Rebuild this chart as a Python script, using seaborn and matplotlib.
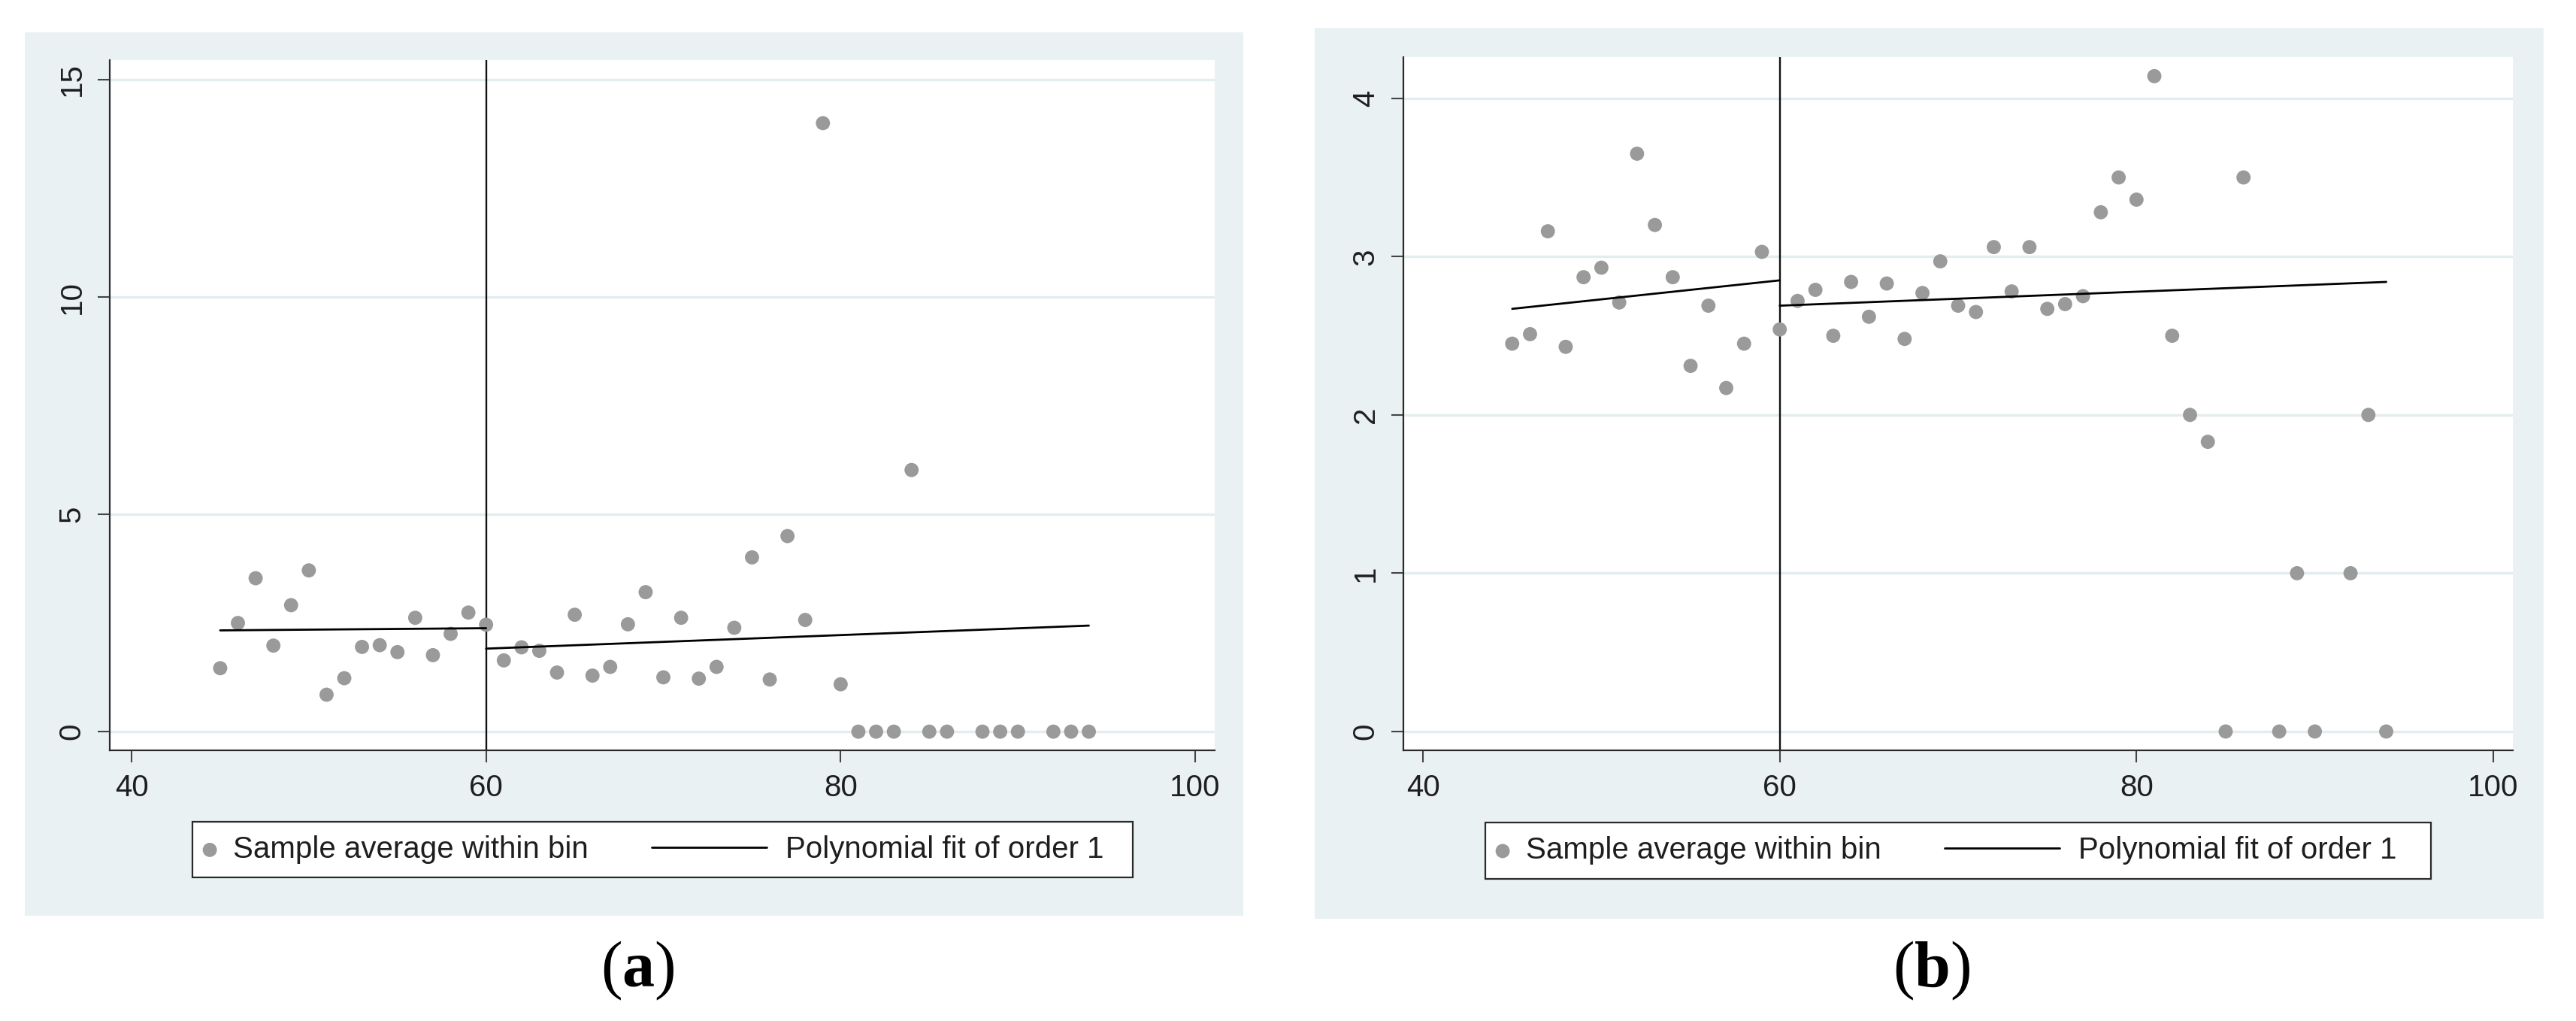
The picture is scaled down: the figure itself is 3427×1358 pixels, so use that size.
import numpy as np
import pandas as pd
import matplotlib
matplotlib.use("Agg")
import matplotlib.pyplot as plt
import seaborn as sns
from matplotlib.patches import Rectangle
from matplotlib.lines import Line2D
from matplotlib.collections import PathCollection
from matplotlib.legend_handler import HandlerLine2D, HandlerPathCollection

# ---------------- data ----------------
bins_a = [45, 46, 47, 48, 49, 50, 51, 52, 53, 54, 55, 56, 57, 58, 59, 60, 61, 62, 63, 64,
          65, 66, 67, 68, 69, 70, 71, 72, 73, 74, 75, 76, 77, 78, 79, 80, 81, 82, 83, 84,
          85, 86, 88, 89, 90, 92, 93, 94]
means_a = [1.46, 2.50, 3.53, 1.98, 2.91, 3.71, 0.85, 1.23, 1.95, 1.99, 1.83, 2.62, 1.76, 2.25,
           2.74, 2.46, 1.64, 1.94, 1.86, 1.36, 2.69, 1.29, 1.49, 2.47, 3.21, 1.25, 2.62, 1.22,
           1.49, 2.39, 4.01, 1.20, 4.50, 2.57, 14.0, 1.09, 0, 0, 0, 6.02, 0, 0, 0, 0, 0, 0, 0, 0]

bins_b = [45, 46, 47, 48, 49, 50, 51, 52, 53, 54, 55, 56, 57, 58, 59, 60, 61, 62, 63, 64,
          65, 66, 67, 68, 69, 70, 71, 72, 73, 74, 75, 76, 77, 78, 79, 80, 81, 82, 83, 84,
          85, 86, 88, 89, 90, 92, 93, 94]
means_b = [2.45, 2.51, 3.16, 2.43, 2.87, 2.93, 2.71, 3.65, 3.20, 2.87, 2.31, 2.69, 2.17, 2.45,
           3.03, 2.54, 2.72, 2.79, 2.50, 2.84, 2.62, 2.83, 2.48, 2.77, 2.97, 2.69, 2.65, 3.06,
           2.78, 3.06, 2.67, 2.70, 2.75, 3.28, 3.50, 3.36, 4.14, 2.50, 2.00, 1.83, 0, 3.50, 0,
           1.0, 0, 1.0, 2.0, 0]

# polynomial fit (order 1) endpoints, left and right of cutoff
cutoff = 60
fit_a_left_x, fit_a_left_y = [45, 60], [2.33, 2.38]
fit_a_right_x, fit_a_right_y = [60, 94], [1.91, 2.44]
fit_b_left_x, fit_b_left_y = [45, 60], [2.67, 2.85]
fit_b_right_x, fit_b_right_y = [60, 94], [2.69, 2.84]

xticks = [40, 60, 80, 100]
yticks_a = [0, 5, 10, 15]
yticks_b = [0, 1, 2, 3, 4]
legend_labels = ["Sample average within bin", "Polynomial fit of order 1"]
panel_labels = ["a", "b"]

# ---------------- style ----------------
sns.set_style("white")
plt.rcParams["font.family"] = ["Liberation Sans", "DejaVu Sans"]
plt.rcParams["mathtext.fontset"] = "custom"
plt.rcParams["mathtext.rm"] = "Liberation Serif"
plt.rcParams["mathtext.bf"] = "Liberation Serif:bold"

W, H = 3427, 1358
fig = plt.figure(figsize=(W / 100, H / 100), dpi=100)
fig.patch.set_facecolor("white")

BG = "#EAF1F3"
GRID = "#E3ECEF"
DOT = "#9A9A9A"
TXT = "#1E1E1E"


def fx(px):
    return px / W


def fy(py):
    return 1 - py / H


# panel backgrounds (Stata graph region)
for (x0, y0, x1, y1) in [(33, 43, 1654, 1218), (1749, 37, 3384, 1222)]:
    fig.add_artist(Rectangle((fx(x0), fy(y1)), fx(x1 - x0), (y1 - y0) / H,
                             transform=fig.transFigure, facecolor=BG, edgecolor="none", zorder=0))


class DotHandler(HandlerPathCollection):
    def get_xdata(self, legend, xdescent, ydescent, width, height, fontsize):
        x = [-xdescent - 0.42 * fontsize]
        return x, x


class LineHandler(HandlerLine2D):
    def get_xdata(self, legend, xdescent, ydescent, width, height, fontsize):
        x = [-xdescent - 4.05 * fontsize, -xdescent - 0.25 * fontsize]
        return x, [x[0]]


panels = [
    dict(rect=(146, 80, 1616, 998), xlim=(38.77, 101.1), ylim=(-0.43, 15.45),
         x=bins_a, y=means_a, yt=yticks_a,
         fits=[(fit_a_left_x, fit_a_left_y), (fit_a_right_x, fit_a_right_y)],
         leg=(256, 1093, 1507, 1167), hbox=296, lab=(848, 1291)),
    dict(rect=(1867, 76, 3343, 998), xlim=(38.9, 101.1), ylim=(-0.119, 4.26),
         x=bins_b, y=means_b, yt=yticks_b,
         fits=[(fit_b_left_x, fit_b_left_y), (fit_b_right_x, fit_b_right_y)],
         leg=(1976, 1094, 3234, 1169), hbox=2016, lab=(2570, 1291)),
]

for i, p in enumerate(panels):
    l, t, r, b = p["rect"]
    ax = fig.add_axes([fx(l), fy(b), fx(r - l), (b - t) / H])
    ax.set_facecolor("white")
    ax.set_zorder(2)

    df = pd.DataFrame({"x": p["x"], "y": p["y"]})
    sns.scatterplot(data=df, x="x", y="y", ax=ax, color=DOT, s=185, edgecolor="none",
                    linewidth=0, label=legend_labels[0], zorder=3)
    for k, (fxv, fyv) in enumerate(p["fits"]):
        sns.lineplot(x=fxv, y=fyv, ax=ax, color="black", linewidth=2.0,
                     label=legend_labels[1] if k == 0 else "_nolegend_", zorder=4)
    ax.axvline(cutoff, color="#111111", linewidth=1.7, zorder=2)

    ax.set_xlim(*p["xlim"])
    ax.set_ylim(*p["ylim"])
    ax.set_xticks(xticks)
    ax.set_yticks(p["yt"])
    ax.set_xlabel("")
    ax.set_ylabel("")
    ax.yaxis.grid(True, color=GRID, linewidth=2.4)
    ax.xaxis.grid(False)
    ax.set_axisbelow(True)
    for s in ["top", "right"]:
        ax.spines[s].set_visible(False)
    for s in ["left", "bottom"]:
        ax.spines[s].set_visible(True)
        ax.spines[s].set_color("#2A2A2A")
        ax.spines[s].set_linewidth(1.6)
    ax.tick_params(axis="both", which="major", direction="out", length=11.5, width=1.5,
                   color="#444444", labelsize=29, labelcolor=TXT, pad=11,
                   bottom=True, left=True)
    ax.tick_params(axis="y", labelrotation=90)
    for lbl in ax.get_yticklabels():
        lbl.set_va("center")

    # legend
    handles, labels = ax.get_legend_handles_labels()
    lx0, ly0, lx1, ly1 = p["leg"]
    fig.add_artist(Rectangle((fx(lx0), fy(ly1)), fx(lx1 - lx0), (ly1 - ly0) / H,
                             transform=fig.transFigure, facecolor="white",
                             edgecolor="#2A2A2A", linewidth=1.6, zorder=1))
    ycen = (b - (ly0 + ly1) / 2) / (b - t)
    xanc = (p["hbox"] - l) / (r - l)
    ax.legend(handles, labels, loc="center left", bbox_to_anchor=(xanc, ycen),
              ncol=2, frameon=False, borderpad=0, borderaxespad=0, fontsize=29,
              handlelength=0.1, handletextpad=0.25, columnspacing=6.15,
              scatterpoints=1, labelcolor=TXT,
              handler_map={PathCollection: DotHandler(), Line2D: LineHandler()})

    fig.text(fx(p["lab"][0]), fy(p["lab"][1]), "(" + r"$\mathbf{" + panel_labels[i] + "}$" + ")",
             ha="center", va="center", fontsize=62, family="Liberation Serif", color="black")

fig.savefig("out.png", dpi=100, facecolor="white")
